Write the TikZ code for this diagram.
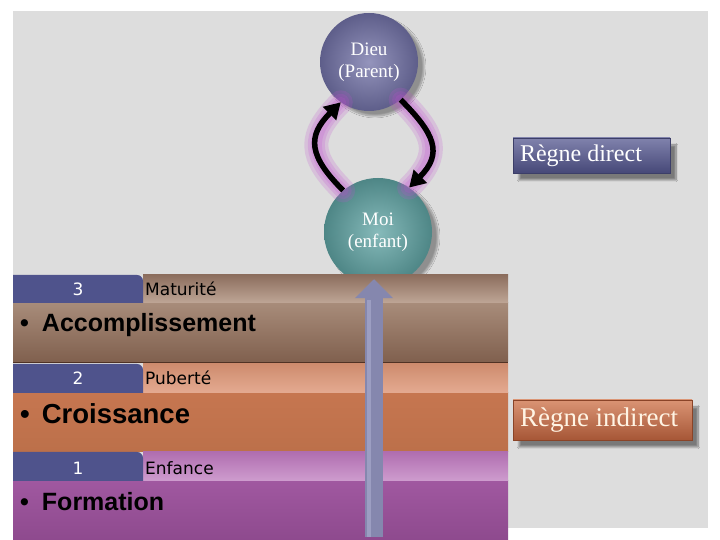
\documentclass[tikz,border=0pt]{standalone}
\usepackage{fontspec}
\setmainfont{Liberation Serif}
\newfontfamily\sansA{Liberation Sans}
\newfontfamily\sansV{DejaVu Sans}
\usetikzlibrary{arrows.meta,shadows.blur}
\definecolor{panelgrey}{HTML}{DDDDDD}
\definecolor{tabblue}{HTML}{4F538C}
\definecolor{glowc}{HTML}{C050D0}
\definecolor{dieuIn}{HTML}{9494BC}
\definecolor{dieuOut}{HTML}{5E5E8A}
\definecolor{moiIn}{HTML}{86BABA}
\definecolor{moiOut}{HTML}{4E8686}
\definecolor{arrowc}{HTML}{8587AE}
\definecolor{arrowhi}{HTML}{9C9EC2}
\begin{document}
\begin{tikzpicture}[x=1pt,y=1pt,
  bubble/.style={circle,inner sep=0pt,minimum size=#1,text=white,
    font=\fontsize{19}{22}\selectfont,
    blur shadow={shadow xshift=6pt,shadow yshift=-5pt,shadow opacity=35,shadow blur steps=10}},
  looparrow/.style={line width=5.5pt,-{Triangle[length=16pt,width=18pt]},looseness=1.4},
  glow/.style={line width=#1,draw=glowc,opacity=0.2,line cap=round,looseness=1.4},
  regne/.style={rectangle,inner ysep=0pt,
    blur shadow={shadow xshift=6pt,shadow yshift=-7pt,shadow opacity=45,shadow blur steps=10}},
  band/.style={rectangle,inner sep=0pt,minimum width=495pt,anchor=south west},
  hdr/.style={rectangle,inner sep=0pt,minimum width=365pt,minimum height=28pt,anchor=south west},
  tabnum/.style={text=white,font=\sansV\fontsize{17}{20}\selectfont,anchor=base,inner sep=0pt},
  tablab/.style={text=black,font=\sansV\fontsize{17}{20}\selectfont,anchor=base west,inner sep=0pt},
  bigtxt/.style={text=black,anchor=base west,inner sep=0pt},
]
\useasboundingbox (0,0) rectangle (720,540);
\fill[white] (0,0) rectangle (720,540);
\fill[panelgrey] (13,12) rectangle (708,529);

% circles
\node[bubble=98pt,inner color=dieuIn,outer color=dieuOut] (dieu) at (369,478)
  {\raisebox{-1pt}{\begin{tabular}{@{}c@{}}Dieu\\(Parent)\end{tabular}}};
\node[bubble=108pt,inner color=moiIn,outer color=moiOut] (moi) at (378,308)
  {\raisebox{7pt}{\begin{tabular}{@{}c@{}}Moi\\(enfant)\end{tabular}}};

% glow around the loop arrows
\foreach \w in {24pt,17pt,11pt}{
  \draw[glow=\w] (moi.130) to[out=135,in=-135] (dieu.235);
  \draw[glow=\w] (dieu.-50) to[out=-45,in=45] (moi.55);
}
% loop arrows
\draw[looparrow] (moi.130) to[out=135,in=-135] (dieu.235);
\draw[looparrow] (dieu.-50) to[out=-45,in=45] (moi.55);

% level 3
\node[band,minimum height=59pt,
  top color={rgb,255:red,168;green,140;blue,122},middle color={rgb,255:red,192;green,168;blue,152},
  bottom color={rgb,255:red,128;green,96;blue,78}] (band3) at (13,178) {};
\node[hdr,top color={rgb,255:red,140;green,110;blue,94},bottom color={rgb,255:red,190;green,166;blue,150}] (hdr3) at (143,237) {};
\fill[tabblue] (13,237) -- (13,265) -- (137,265) arc[start angle=90,end angle=0,radius=6pt] -- (143,237) -- cycle;
\node[tabnum] (n3) at (78,244) {3};
\node[tablab] (l3) at (145,244) {Maturité};
\node[bigtxt,font=\sansA\bfseries\fontsize{25}{30}\selectfont] (t3) at (20,208) {•\hspace{13pt}Accomplissement};

% level 2
\node[band,minimum height=59pt,top color={rgb,255:red,198;green,118;blue,80},
  middle color={rgb,255:red,226;green,168;blue,140},bottom color={rgb,255:red,188;green,112;blue,74}] (band2) at (13,88) {};
\node[hdr,minimum height=29pt,top color={rgb,255:red,206;green,140;blue,110},bottom color={rgb,255:red,228;green,170;blue,145}] (hdr2) at (143,147) {};
\fill[tabblue] (13,147) -- (13,176) -- (137,176) arc[start angle=90,end angle=0,radius=6pt] -- (143,147) -- cycle;
\draw[line width=1pt,color={rgb,255:red,80;green,50;blue,36}] (13,177.5) -- (508,177.5);
\node[tabnum] (n2) at (78,155) {2};
\node[tablab] (l2) at (145,155) {Puberté};
\node[bigtxt,font=\sansA\bfseries\fontsize{27.5}{32}\selectfont] (t2) at (20,116) {•\hspace{12pt}Croissance};

% level 1
\node[band,minimum height=59pt,top color={rgb,255:red,160;green,88;blue,160},
  middle color={rgb,255:red,200;green,152;blue,200},bottom color={rgb,255:red,142;green,74;blue,142}] (band1) at (13,0) {};
\node[hdr,minimum height=29pt,top color={rgb,255:red,176;green,110;blue,176},bottom color={rgb,255:red,206;green,156;blue,206}] (hdr1) at (143,59) {};
\fill[tabblue] (13,59) -- (13,88) -- (137,88) arc[start angle=90,end angle=0,radius=6pt] -- (143,59) -- cycle;
\node[tabnum] (n1) at (78,65) {1};
\node[tablab] (l1) at (145,65) {Enfance};
\node[bigtxt,font=\sansA\bfseries\fontsize{25}{30}\selectfont] (t1) at (20,29) {•\hspace{13pt}Formation};

% vertical arrow
\coordinate (abase) at (374,3);
\draw[line width=18pt,arrowc,-{Triangle[length=19pt,width=37pt]},shorten >=-7pt] (abase) -- (abase |- moi.south);
\draw[line width=4pt,arrowhi] (369,3) -- (369,240);

% regne boxes
\node[regne,inner xsep=7pt,minimum height=35pt,text=white,
  top color={rgb,255:red,128;green,130;blue,172},bottom color={rgb,255:red,70;green,72;blue,120},
  draw={rgb,255:red,60;green,62;blue,104},line width=0.6pt,
  font=\fontsize{24}{28}\selectfont] (direct) at (591.5,384.5) {\makebox[143pt][l]{Règne direct}};
\node[regne,inner xsep=7pt,minimum height=40pt,text={rgb,255:red,255;green,244;blue,228},
  top color={rgb,255:red,218;green,148;blue,116},bottom color={rgb,255:red,166;green,86;blue,54},
  draw={rgb,255:red,138;green,68;blue,40},line width=0.6pt,
  font=\fontsize{27}{32}\selectfont] (indirect) at (602.5,120) {\makebox[165pt][l]{Règne indirect}};
\end{tikzpicture}
\end{document}
